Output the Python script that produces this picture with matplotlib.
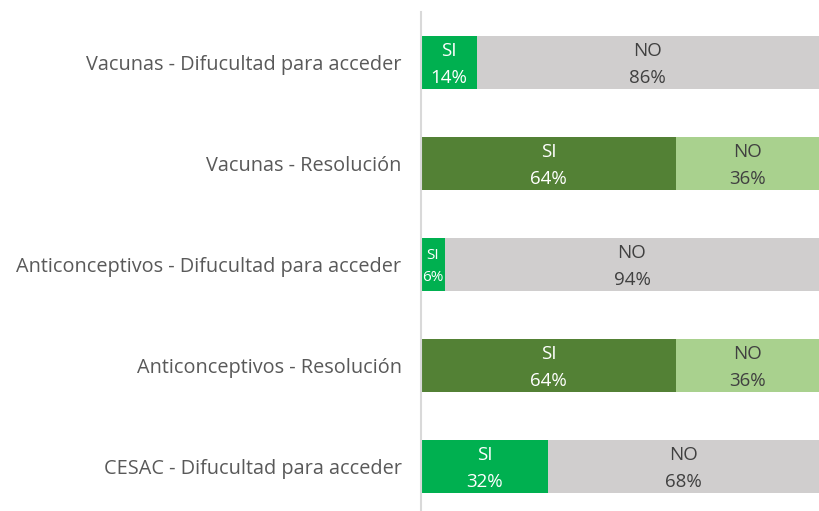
import matplotlib.pyplot as plt

categories = ["Vacunas - Difucultad para acceder", "Vacunas - Resolución",
              "Anticonceptivos - Difucultad para acceder", "Anticonceptivos - Resolución",
              "CESAC - Difucultad para acceder"]
si = [14, 64, 6, 64, 32]
no = [86, 36, 94, 36, 68]
resolucion = [False, True, False, True, False]

plt.rcParams['font.family'] = ['Open Sans', 'DejaVu Sans']

fig = plt.figure(figsize=(8.19, 5.11), dpi=100)
ax = fig.add_axes([421 / 819, 0, 398 / 819, 499 / 511])

y = range(len(categories))
si_col = ['#538135' if r else '#00B050' for r in resolucion]
no_col = ['#A9D18E' if r else '#D0CECE' for r in resolucion]
ax.barh(y, si, height=0.525, color=si_col)
ax.barh(y, no, left=si, height=0.525, color=no_col)

for i in y:
    fs = 11 if si[i] < 10 else 13.5
    ax.text(si[i] / 2, i + 0.02, f"SI\n{si[i]}%", ha='center', va='center',
            color='white', fontsize=fs, linespacing=1.7)
    ax.text(si[i] + no[i] / 2, i + 0.02, f"NO\n{no[i]}%", ha='center', va='center',
            color='#404040', fontsize=13.5, linespacing=1.7)

ax.set_xlim(0, 100)
ax.set_ylim(4.44, -0.5)
ax.set_yticks(list(y))
ax.set_yticklabels(categories, fontsize=14.3, color='#595959')
ax.tick_params(axis='y', length=0, pad=14)
ax.set_xticks([])
for s in ['top', 'right', 'bottom']:
    ax.spines[s].set_visible(False)
ax.spines['left'].set_color('#D9D9D9')
ax.spines['left'].set_linewidth(1.5)

fig.savefig('out.png', dpi=100)
